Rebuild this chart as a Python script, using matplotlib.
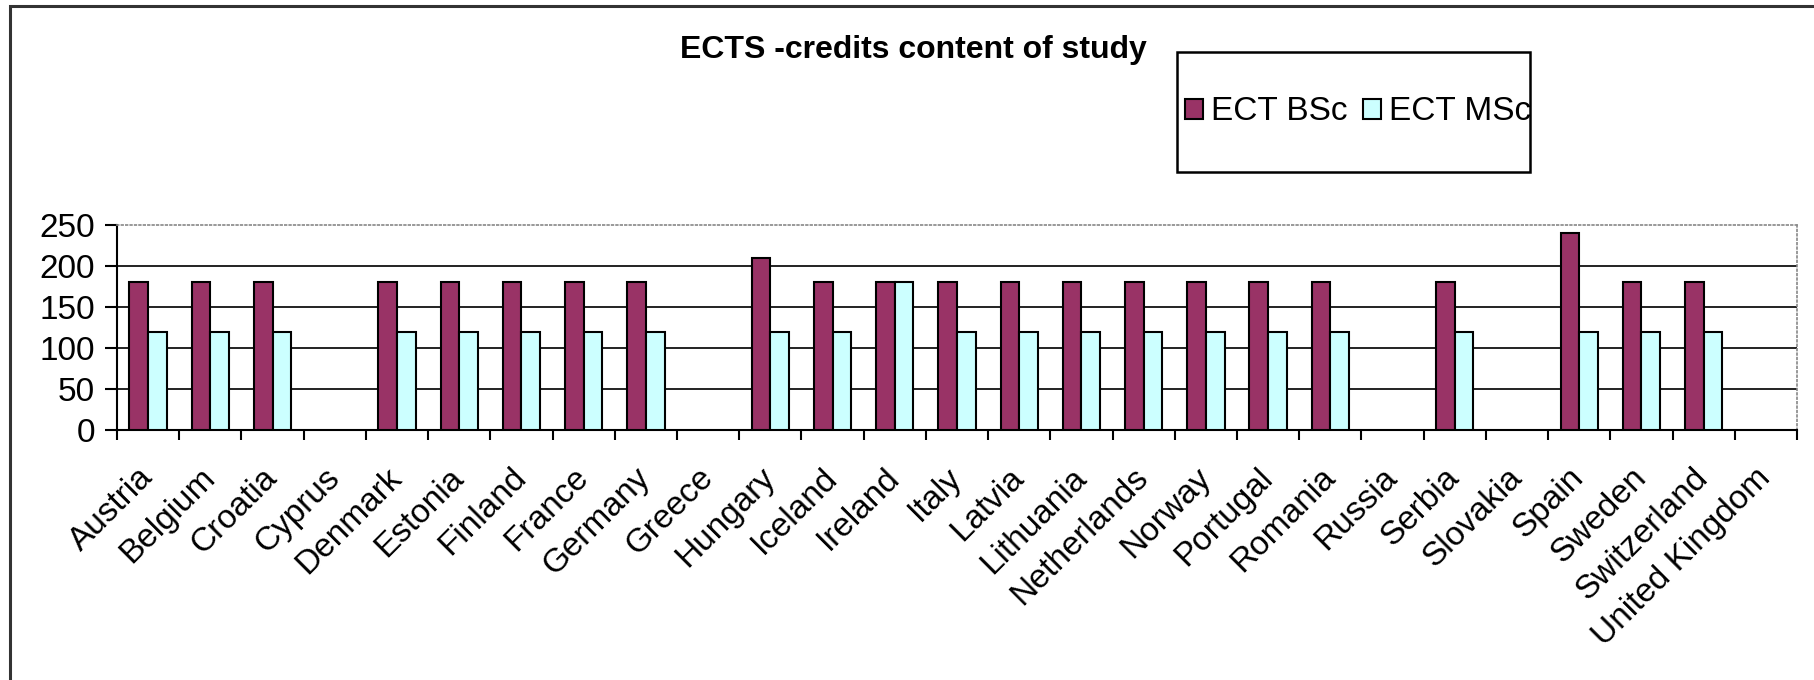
import numpy as np
import matplotlib
matplotlib.use("Agg")
import matplotlib.pyplot as plt
from matplotlib.patches import Rectangle

# data (nan = no bar drawn)
countries = ["Austria", "Belgium", "Croatia", "Cyprus", "Denmark", "Estonia",
             "Finland", "France", "Germany", "Greece", "Hungary", "Iceland",
             "Ireland", "Italy", "Latvia", "Lithuania", "Netherlands", "Norway",
             "Portugal", "Romania", "Russia", "Serbia", "Slovakia", "Spain",
             "Sweden", "Switzerland", "United Kingdom"]
nan = np.nan
ect_bsc = [180, 180, 180, nan, 180, 180, 180, 180, 180, nan, 210, 180, 180, 180,
           180, 180, 180, 180, 180, 180, nan, 180, nan, 240, 180, 180, nan]
ect_msc = [120, 120, 120, nan, 120, 120, 120, 120, 120, nan, 120, 120, 180, 120,
           120, 120, 120, 120, 120, 120, nan, 120, nan, 120, 120, 120, nan]
yticks = [0, 50, 100, 150, 200, 250]

plt.rcParams['font.family'] = ['Liberation Sans', 'DejaVu Sans']

W, H = 1815, 680
fig = plt.figure(figsize=(W / 100, H / 100), dpi=100)
ax = fig.add_axes([117 / W, 1 - 430 / H, (1797 - 117) / W, 205 / H])

x = np.arange(len(countries))
bw = 0.3
ax.bar(x - bw / 2, ect_bsc, bw, color='#993366', edgecolor='black', linewidth=1.5,
       label='ECT BSc', zorder=3)
ax.bar(x + bw / 2, ect_msc, bw, color='#CCFFFF', edgecolor='black', linewidth=1.5,
       label='ECT MSc', zorder=3)

ax.set_xlim(-0.5, len(countries) - 0.5)
ax.set_ylim(0, 250)
ax.set_yticks(yticks)
ax.tick_params(axis='y', labelsize=24, length=9, width=1.5, direction='out', pad=7)

# major ticks at category edges, labels at centres
ax.set_xticks(np.arange(len(countries) + 1) - 0.5)
ax.set_xticklabels([])
ax.tick_params(axis='x', which='major', length=7, width=1.5, direction='out')
ax.set_xticks(x, minor=True)
ax.set_xticklabels(countries, minor=True, rotation=45, ha='right', va='center',
                   rotation_mode='anchor', fontsize=24)
ax.tick_params(axis='x', which='minor', length=0, pad=31)

ax.yaxis.grid(True, color='#111111', linewidth=1.3, zorder=0)
ax.yaxis.get_gridlines()[-1].set_visible(False)
ax.set_axisbelow(True)

for s in ['left', 'bottom']:
    ax.spines[s].set_color('black')
    ax.spines[s].set_linewidth(1.5)
for s in ['top', 'right']:
    ax.spines[s].set_color('#888888')
    ax.spines[s].set_linestyle(':')
    ax.spines[s].set_linewidth(1.2)

fig.text(913 / W, 1 - 50 / H, 'ECTS -credits content of study', ha='center',
         va='center', fontsize=23, fontweight='bold')

# legend box
fig.patches.append(Rectangle((1177 / W, 1 - 172 / H), 353 / W, 120 / H,
                             transform=fig.transFigure, fill=False,
                             edgecolor='black', linewidth=1.8))
fig.legend(loc='center', bbox_to_anchor=(1358 / W, 1 - 112 / H), ncol=2,
           frameon=False, fontsize=24, handlelength=0.55, handleheight=0.55,
           handletextpad=0.25, columnspacing=0.45, borderaxespad=0)

# chart outer border (cropped at right and bottom)
fig.patches.append(Rectangle((10 / W, -0.2), 1.2, 1.2 - 6 / H,
                             transform=fig.transFigure, fill=False,
                             edgecolor='#333333', linewidth=2.2))

fig.savefig('out.png', dpi=100)
